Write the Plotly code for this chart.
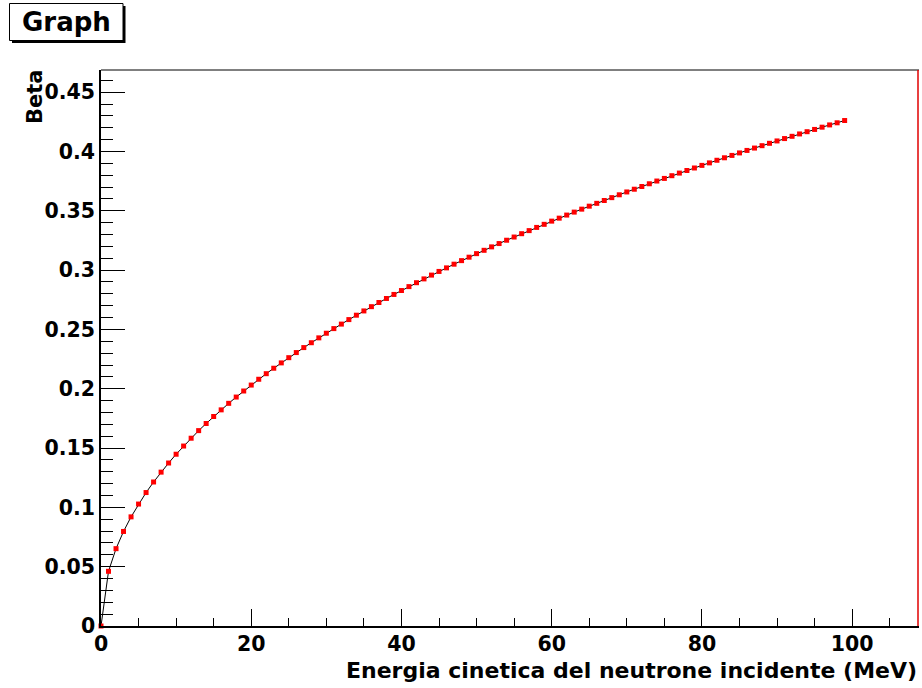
import plotly.graph_objects as go

# Kinetic energy of the incident neutron (MeV)
energy = list(range(0, 100))
# Beta
beta = [
    0.0000, 0.0461, 0.0652, 0.0797, 0.0920, 0.1028, 0.1125, 0.1214, 0.1297, 0.1374,
    0.1448, 0.1517, 0.1583, 0.1647, 0.1707, 0.1766, 0.1822, 0.1877, 0.1930, 0.1981,
    0.2031, 0.2080, 0.2127, 0.2173, 0.2218, 0.2262, 0.2305, 0.2347, 0.2388, 0.2429,
    0.2468, 0.2507, 0.2545, 0.2583, 0.2620, 0.2656, 0.2692, 0.2727, 0.2761, 0.2795,
    0.2828, 0.2861, 0.2894, 0.2926, 0.2958, 0.2989, 0.3019, 0.3050, 0.3080, 0.3109,
    0.3139, 0.3167, 0.3196, 0.3224, 0.3252, 0.3279, 0.3307, 0.3333, 0.3360, 0.3386,
    0.3413, 0.3438, 0.3464, 0.3489, 0.3514, 0.3539, 0.3563, 0.3587, 0.3611, 0.3635,
    0.3659, 0.3682, 0.3705, 0.3728, 0.3751, 0.3773, 0.3796, 0.3818, 0.3840, 0.3861,
    0.3883, 0.3904, 0.3926, 0.3947, 0.3967, 0.3988, 0.4009, 0.4029, 0.4049, 0.4069,
    0.4089, 0.4109, 0.4128, 0.4148, 0.4167, 0.4186, 0.4205, 0.4224, 0.4242, 0.4261,
]

x_title = "Energia cinetica del neutrone incidente (MeV)"
y_title = "Beta"
graph_title = "Graph"

W, H = 922, 688
L, R, T, B = 101, 3, 70, 62
PW, PH = W - L - R, H - T - B


def px(xp):
    return (xp - L) / PW


def py(yp):
    return (H - B - yp) / PH


FONT = "DejaVu Sans"

fig = go.Figure()
fig.add_trace(go.Scatter(
    x=energy, y=beta, mode="lines+markers",
    line=dict(color="black", width=1),
    marker=dict(symbol="square", size=5, color="#ff0000", line=dict(width=0)),
    showlegend=False, cliponaxis=False,
))

fig.update_layout(
    width=W, height=H,
    margin=dict(l=L, r=R, t=T, b=B),
    paper_bgcolor="white", plot_bgcolor="white",
    font=dict(family=FONT, color="black"),
    xaxis=dict(
        range=[0, 108.9], dtick=20, tick0=0,
        showgrid=False, zeroline=False,
        showline=True, linecolor="black", linewidth=2,
        ticks="inside", ticklen=17, tickwidth=1, tickcolor="black",
        minor=dict(dtick=5, ticks="inside", ticklen=8, tickwidth=1, tickcolor="black", showgrid=False),
        tickfont=dict(family=FONT, size=20.5, weight="bold", color="black"),
        ticklabelstandoff=-2,
    ),
    yaxis=dict(
        range=[0, 0.4687], dtick=0.05, tick0=0,
        showgrid=False, zeroline=False,
        showline=True, linecolor="black", linewidth=1.5,
        ticks="inside", ticklen=24, tickwidth=1, tickcolor="black",
        minor=dict(dtick=0.01, ticks="inside", ticklen=12, tickwidth=1, tickcolor="black", showgrid=False),
        tickfont=dict(family=FONT, size=20.5, weight="bold", color="black"),
    ),
    shapes=[
        # top frame edge
        dict(type="line", xref="paper", yref="paper", x0=0, x1=1, y0=1, y1=1,
             line=dict(color="black", width=1)),
        # right frame edge (red)
        dict(type="line", xref="paper", yref="paper", x0=1 - 1.0 / PW, x1=1 - 1.0 / PW, y0=0, y1=1,
             line=dict(color="#e00000", width=1.5)),
        # title box shadow
        dict(type="rect", xref="paper", yref="paper",
             x0=px(12), x1=px(125.5), y0=py(43), y1=py(6),
             line=dict(width=0), fillcolor="black"),
        # title box
        dict(type="rect", xref="paper", yref="paper",
             x0=px(9.5), x1=px(123), y0=py(40.5), y1=py(3.5),
             line=dict(color="black", width=1), fillcolor="white"),
    ],
    annotations=[
        dict(text=graph_title, xref="paper", yref="paper", x=px(66), y=py(22),
             xanchor="center", yanchor="middle", showarrow=False,
             font=dict(family=FONT, size=26, weight="bold", color="black")),
        dict(text=x_title, xref="paper", yref="paper", x=px(918), y=py(670),
             xanchor="right", yanchor="middle", showarrow=False, borderpad=0,
             font=dict(family=FONT, size=22, weight="bold", color="black")),
        dict(text=y_title, xref="paper", yref="paper", x=px(35), y=py(97),
             xanchor="center", yanchor="middle", showarrow=False, textangle=-90,
             font=dict(family=FONT, size=21, weight="bold", color="black")),
    ],
)

fig.write_html("out.html")
